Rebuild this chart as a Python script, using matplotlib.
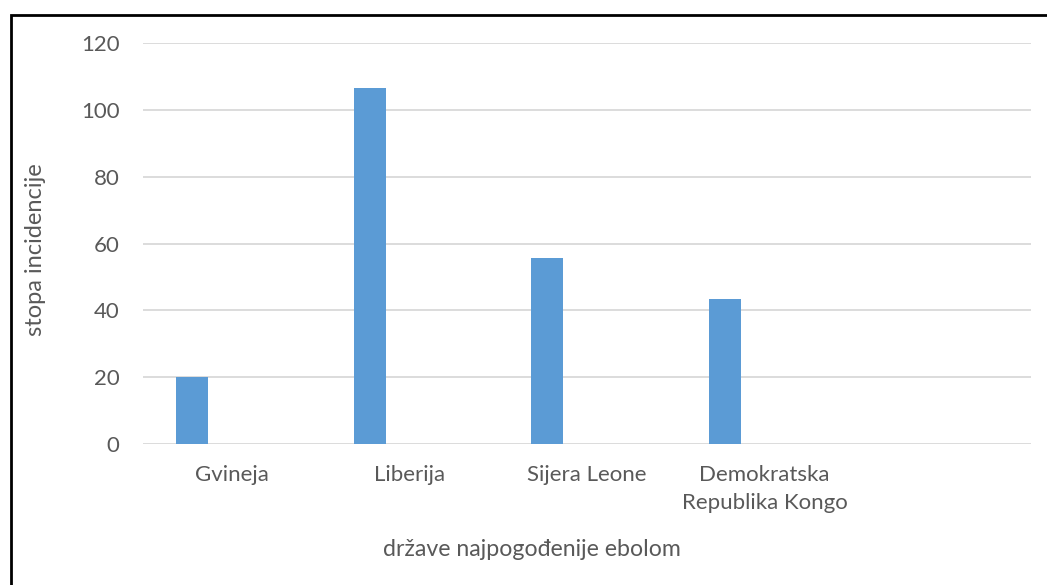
import matplotlib
matplotlib.use("Agg")
import matplotlib.pyplot as plt
from matplotlib.patches import Rectangle

categories = ["Gvineja", "Liberija", "Sijera Leone", "Demokratska\nRepublika Kongo", ""]
values = [20.1, 106.5, 55.7, 43.4, None]
yticks = [0, 20, 40, 60, 80, 100, 120]

plt.rcParams['font.family'] = ['Lato', 'DejaVu Sans']
W, H = 1047, 585
fig = plt.figure(figsize=(W/100, H/100), dpi=100)
L, R, T, B = 143, 1031, 43, 444
ax = fig.add_axes([L/W, 1-B/H, (R-L)/W, (B-T)/H])

xs = [i - 0.224 for i, v in enumerate(values) if v is not None]
vs = [v for v in values if v is not None]
ax.bar(xs, vs, width=0.18, color="#5b9bd5", zorder=3)

ax.set_xlim(-0.5, len(categories) - 0.5)
ax.set_ylim(0, 120)
ax.set_yticks(yticks)
ax.set_yticklabels([str(t) for t in yticks])
ax.set_xticks(range(len(categories)))
ax.set_xticklabels(categories, linespacing=1.5)
ax.grid(axis='y', color="#d9d9d9", linewidth=1.3, zorder=0)
for s in ax.spines.values():
    s.set_visible(False)
ax.tick_params(axis='both', length=0, labelsize=16, colors="#595959")
ax.tick_params(axis='y', pad=17)
ax.tick_params(axis='x', pad=15)
ax.set_ylabel("stopa incidencije", fontsize=17, color="#595959", va='center')
ax.set_xlabel("države najpogođenije ebolom", fontsize=16.7, color="#595959", va='center')
ax.yaxis.set_label_coords((36 - L) / (R - L), (B - 250) / (B - T))
ax.xaxis.set_label_coords((532 - L) / (R - L), (B - 549) / (B - T))

fig.patches.append(Rectangle((10.5/W, -0.1), 1.2, 1 - 14.5/H + 0.1, transform=fig.transFigure,
                             fill=False, edgecolor="black", linewidth=2, figure=fig))
fig.savefig("out.png", dpi=100, facecolor="white")
